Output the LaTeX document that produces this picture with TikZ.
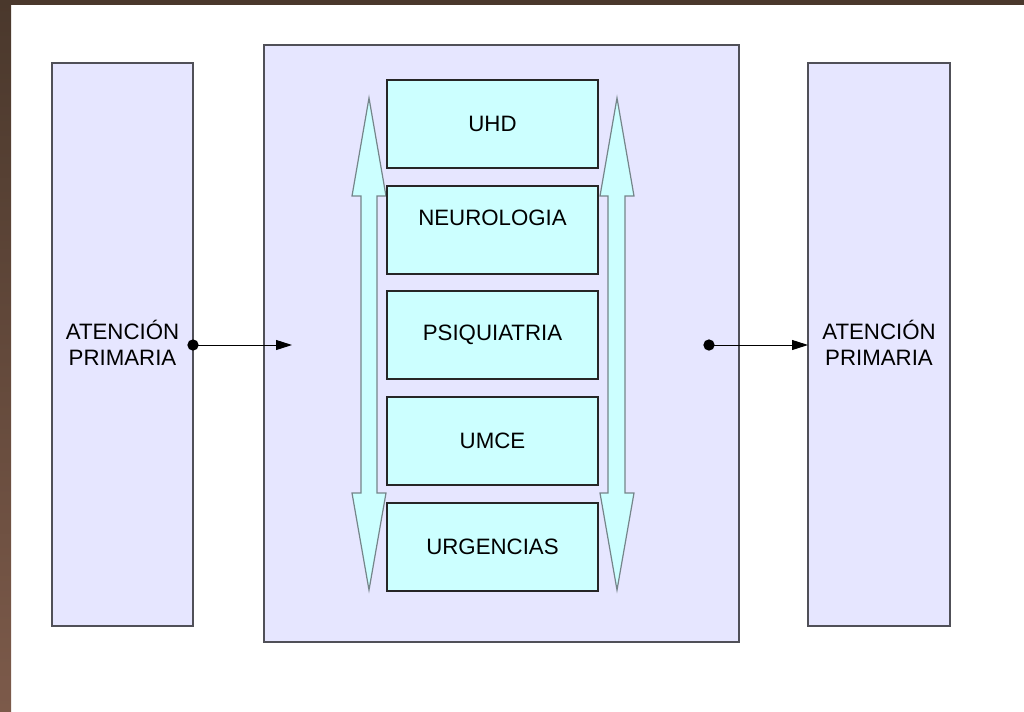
\documentclass[tikz,border=0pt]{standalone}
\usepackage{fontspec}
\setmainfont{Liberation Sans}
\usetikzlibrary{arrows.meta}
\definecolor{lav}{HTML}{E6E6FF}
\definecolor{cy}{HTML}{CCFFFF}
\definecolor{bordergray}{HTML}{505058}
\definecolor{arrowgray}{HTML}{75858A}
\definecolor{browntop}{HTML}{4A382C}
\definecolor{brownbot}{HTML}{7C5A4A}
\tikzset{
  outerbox/.style={draw=bordergray, fill=lav, line width=1pt},
  innerbox/.style={draw=black!85, fill=cy, line width=0.8pt, minimum width=158.25pt, minimum height=66pt, font=\fontsize{16.7}{19.5}\selectfont},
  boxtext/.style={font=\fontsize{16.7}{19.5}\selectfont},
  sidelabel/.style={font=\fontsize{16.7}{19.5}\selectfont, align=center},
  dblarrow/.style={draw=arrowgray, fill=cy, line width=0.9pt, line join=miter},
  conn/.style={line width=0.7pt, -{Triangle[length=12pt,width=7.5pt]}},
  dot/.style={circle, fill=black, inner sep=0pt, minimum size=8.5pt}
}
\begin{document}
\begin{tikzpicture}[x=0.75pt,y=-0.75pt]
\useasboundingbox (0,0) rectangle (1024,711);
\fill[white] (0,0) rectangle (1024,711);
\fill[browntop] (0,0) rectangle (1024,5);
\shade[top color=browntop, bottom color=brownbot] (0,0) rectangle (11,711);
% side boxes
\draw[outerbox] (52,63) rectangle (193,626);
\draw[outerbox] (808,63) rectangle (950,626);
\node[sidelabel] (apL) at (122.5,343) {ATENCIÓN\\PRIMARIA};
\node[sidelabel] (apR) at (879,343) {ATENCIÓN\\PRIMARIA};
% centre box
\draw[outerbox] (264,45) rectangle (739,642);
% double arrows
\draw[dblarrow] (369,98) -- (386,196) -- (377,196) -- (377,493) -- (386,493) -- (369,590)
  -- (352,493) -- (361,493) -- (361,196) -- (352,196) -- cycle;
\draw[dblarrow] (617,98) -- (634,196) -- (625,196) -- (625,493) -- (634,493) -- (617,590)
  -- (600,493) -- (608,493) -- (608,196) -- (600,196) -- cycle;
% inner boxes
\node[innerbox] (uhd) at (492.5,124) {UHD};
\node[innerbox] (neu) at (492.5,230) {};
\node[boxtext] (neut) at ([yshift=9pt]neu.center) {NEUROLOGIA};
\node[innerbox] (psi) at (492.5,335) {PSIQUIATRIA};
\node[innerbox] (umc) at (492.5,441) {UMCE};
\node[innerbox] (urg) at (492.5,547) {URGENCIAS};
% connectors
\coordinate (ls) at (193,345);
\coordinate (le) at (292,345);
\coordinate (rs) at (709,345);
\coordinate (re) at (808,345);
\node[dot] (dl) at (ls) {};
\node[dot] (dr) at (rs) {};
\draw[conn] (dl.center) -- (le);
\draw[conn] (dr.center) -- (re);
\end{tikzpicture}
\end{document}
